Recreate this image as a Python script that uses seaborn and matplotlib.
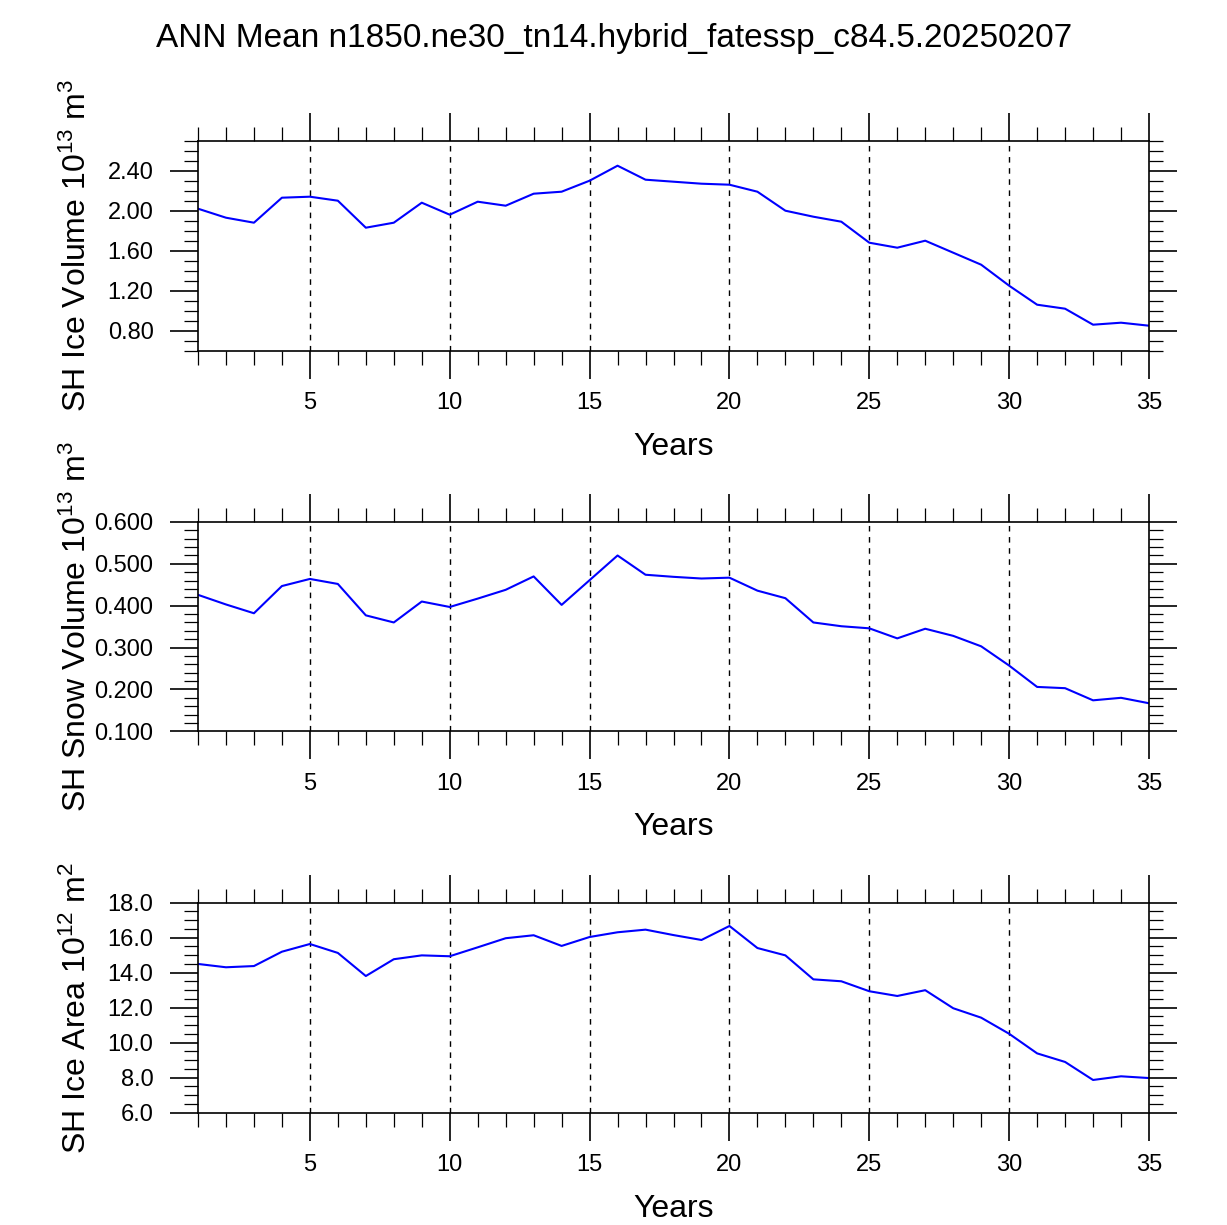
import numpy as np
import pandas as pd
import seaborn as sns
import matplotlib
matplotlib.use("Agg")
import matplotlib.pyplot as plt
from matplotlib.ticker import MultipleLocator, FormatStrFormatter

years = list(range(1, 36))

ice_volume = [2.02, 1.93, 1.88, 2.13, 2.14, 2.10, 1.83, 1.88, 2.08, 1.96,
              2.09, 2.05, 2.17, 2.19, 2.30, 2.45, 2.31, 2.29, 2.27, 2.26,
              2.19, 2.00, 1.94, 1.89, 1.68, 1.63, 1.70, 1.58, 1.46, 1.25,
              1.06, 1.02, 0.86, 0.88, 0.85]

snow_volume = [0.426, 0.403, 0.382, 0.447, 0.464, 0.452, 0.377, 0.360, 0.410, 0.397,
               0.417, 0.438, 0.470, 0.402, 0.461, 0.520, 0.474, 0.469, 0.465, 0.467,
               0.436, 0.418, 0.360, 0.351, 0.346, 0.322, 0.345, 0.328, 0.303, 0.257,
               0.206, 0.203, 0.174, 0.180, 0.167]

ice_area = [14.50, 14.31, 14.38, 15.20, 15.64, 15.13, 13.81, 14.77, 14.99, 14.94,
            15.45, 15.97, 16.14, 15.53, 16.04, 16.31, 16.46, 16.15, 15.87, 16.67,
            15.41, 14.99, 13.62, 13.51, 12.94, 12.67, 13.00, 11.97, 11.43, 10.51,
            9.39, 8.90, 7.87, 8.08, 7.98]

title = "ANN Mean n1850.ne30_tn14.hybrid_fatessp_c84.5.20250207"

panels = [
    ("ice_volume", r"SH Ice Volume 10$^{13}$ m$^{3}$", (0.6, 2.7), 0.4, 0.1, "%.2f"),
    ("snow_volume", r"SH Snow Volume 10$^{13}$ m$^{3}$", (0.1, 0.6), 0.1, 0.02, "%.3f"),
    ("ice_area", r"SH Ice Area 10$^{12}$ m$^{2}$", (6.0, 18.0), 2.0, 0.5, "%.1f"),
]

df = pd.DataFrame({"year": years, "ice_volume": ice_volume,
                   "snow_volume": snow_volume, "ice_area": ice_area})

sns.set_style("ticks")
plt.rcParams["font.family"] = ["Liberation Sans", "DejaVu Sans"]
plt.rcParams["mathtext.default"] = "regular"
plt.rcParams["text.color"] = "black"
plt.rcParams["axes.labelcolor"] = "black"
plt.rcParams["xtick.color"] = "black"
plt.rcParams["ytick.color"] = "black"

fig = plt.figure(figsize=(12.27, 12.25), dpi=100)
W, H = 1227, 1225
left, right = 198, 1149
tops = [140.7, 522, 902.7]
bottoms = [350.7, 731.3, 1112.7]

for i, (col, ylabel, ylim, major, minor, fmt) in enumerate(panels):
    ax = fig.add_axes([left / W, 1 - bottoms[i] / H, (right - left) / W,
                       (bottoms[i] - tops[i]) / H])
    sns.lineplot(data=df, x="year", y=col, ax=ax, color="blue", lw=1.5)
    ax.set_xlim(1, 35)
    ax.set_ylim(*ylim)
    ax.xaxis.set_major_locator(MultipleLocator(5))
    ax.xaxis.set_minor_locator(MultipleLocator(1))
    ax.yaxis.set_major_locator(MultipleLocator(major))
    ax.yaxis.set_minor_locator(MultipleLocator(minor))
    ax.yaxis.set_major_formatter(FormatStrFormatter(fmt))
    ax.tick_params(which="both", direction="out", top=True, right=True,
                   colors="black", labelcolor="black", labelsize=17)
    ax.tick_params(which="major", length=20, width=1.2)
    ax.tick_params(which="minor", length=10, width=0.9)
    ax.tick_params(axis="x", pad=10)
    ax.tick_params(axis="y", pad=12)
    for s in ax.spines.values():
        s.set_linewidth(1.2)
        s.set_color("black")
    for x in range(5, 35, 5):
        ax.axvline(x, color="black", lw=1.0, ls=(0, (4, 4)), zorder=0)
    ax.set_xlabel("")
    ax.set_ylabel("")
    ymid = (tops[i] + bottoms[i]) / 2
    fig.text(77 / W, 1 - ymid / H, ylabel, rotation=90, ha="center",
             va="center", fontsize=23, color="black")
    fig.text((left + right) / 2 / W, 1 - (bottoms[i] + 96) / H, "Years",
             ha="center", va="center", fontsize=23, color="black")

fig.text(614 / W, 1 - 38 / H, title, ha="center", va="center", fontsize=24,
         color="black")

fig.savefig("out.png", dpi=100)
